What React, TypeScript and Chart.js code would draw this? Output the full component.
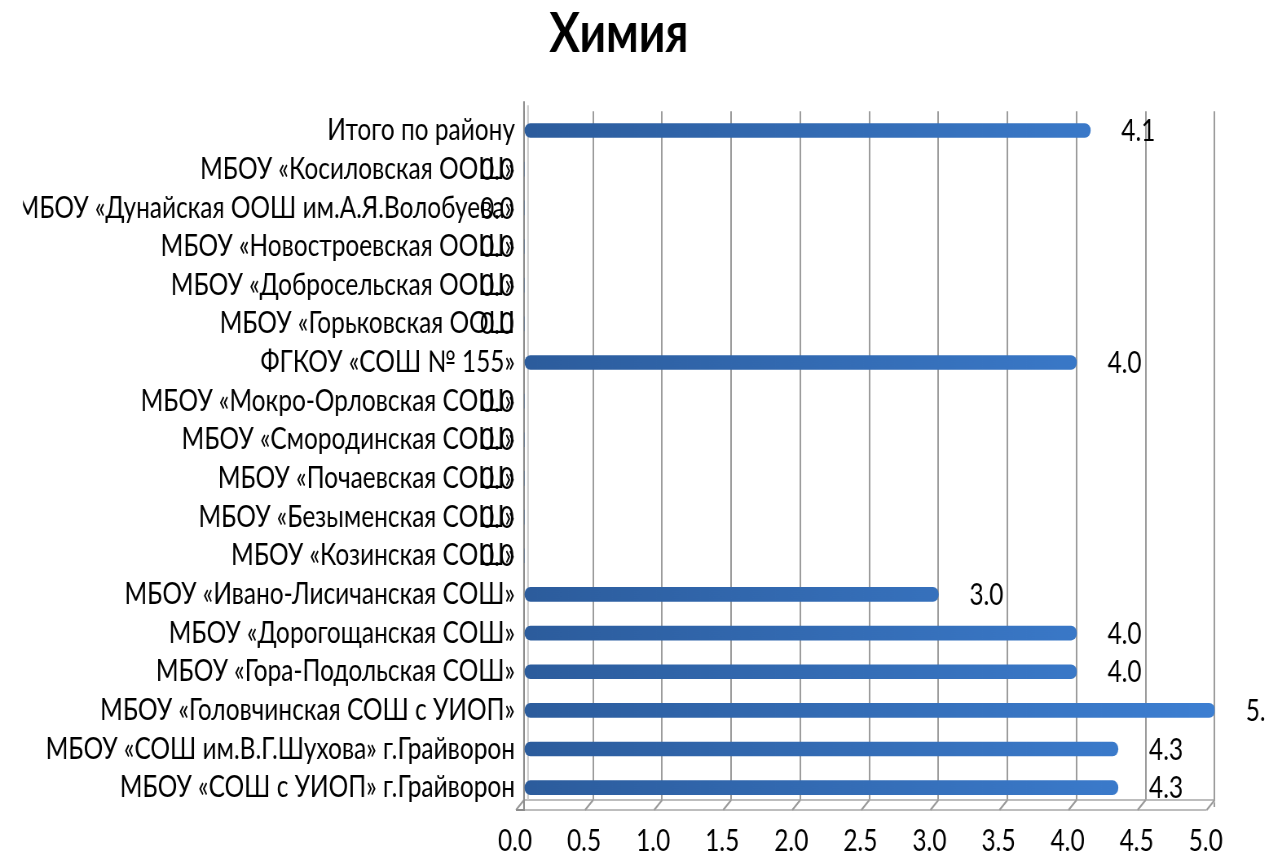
import React, { useEffect, useRef } from "react";
import { Chart, registerables } from "chart.js";

Chart.register(...registerables);

const categories: string[] = [
  "Итого по району",
  "МБОУ «Косиловская ООШ»",
  "МБОУ «Дунайская ООШ им.А.Я.Волобуева»",
  "МБОУ «Новостроевская ООШ»",
  "МБОУ «Добросельская ООШ»",
  "МБОУ «Горьковская ООШ",
  "ФГКОУ «СОШ № 155»",
  "МБОУ «Мокро-Орловская СОШ»",
  "МБОУ «Смородинская СОШ»",
  "МБОУ «Почаевская СОШ»",
  "МБОУ «Безыменская СОШ»",
  "МБОУ «Козинская СОШ»",
  "МБОУ «Ивано-Лисичанская СОШ»",
  "МБОУ «Дорогощанская СОШ»",
  "МБОУ «Гора-Подольская СОШ»",
  "МБОУ «Головчинская СОШ с УИОП»",
  "МБОУ «СОШ им.В.Г.Шухова» г.Грайворон",
  "МБОУ «СОШ с УИОП» г.Грайворон",
];

const values: number[] = [4.1, 0, 0, 0, 0, 0, 4.0, 0, 0, 0, 0, 0, 3.0, 4.0, 4.0, 5.0, 4.3, 4.3];

const axisMin = 0;
const axisMax = 5;
const axisStep = 0.5;
const titleText = "Химия";

// horizontal compression of the whole drawing (condensed look)
const SX = 0.815;
const W_FINAL = 1266;
const H_FINAL = 854;
const W_INT = W_FINAL / SX;

const FONT = "Lato, 'Open Sans', sans-serif";
const TEXT_SIZE = 30;

const floorPlugin = {
  id: "floor3d",
  beforeDatasetsDraw(chart: any) {
    const { ctx, chartArea } = chart;
    const xs = chart.scales.x;
    const yb = chartArea.bottom - 7;
    const yf = chartArea.bottom + 3;
    const d = 8 / SX;
    ctx.save();
    ctx.fillStyle = "#ffffff";
    ctx.beginPath();
    ctx.moveTo(chartArea.left, yb);
    ctx.lineTo(chartArea.right + 2, yb);
    ctx.lineTo(chartArea.right + 2 - d, yf);
    ctx.lineTo(chartArea.left - d, yf);
    ctx.closePath();
    ctx.fill();
    ctx.strokeStyle = "#a8a8a8";
    ctx.lineWidth = 1.5;
    ctx.beginPath();
    ctx.moveTo(chartArea.left, yb);
    ctx.lineTo(chartArea.right, yb);
    ctx.moveTo(chartArea.left - d, yf);
    ctx.lineTo(chartArea.right - d, yf);
    ctx.stroke();
    ctx.strokeStyle = "#9a9a9a";
    ctx.lineWidth = 2;
    ctx.beginPath();
    for (let v = axisMin; v <= axisMax + 1e-9; v += axisStep) {
      const x = xs.getPixelForValue(v);
      ctx.moveTo(x, yb);
      ctx.lineTo(x - d, yf);
    }
    ctx.stroke();
    // left wall (double line)
    ctx.strokeStyle = "#c8c8c8";
    ctx.lineWidth = 2;
    ctx.beginPath();
    ctx.moveTo(chartArea.left + 4 / SX, chartArea.top - 6);
    ctx.lineTo(chartArea.left + 4 / SX, yb);
    ctx.stroke();
    ctx.strokeStyle = "#8c8c8c";
    ctx.beginPath();
    ctx.moveTo(chartArea.left, chartArea.top - 10);
    ctx.lineTo(chartArea.left, yf);
    ctx.lineTo(chartArea.left - d, yf);
    ctx.stroke();
    ctx.restore();
  },
};

const valueLabelPlugin = {
  id: "valueLabels",
  afterDatasetsDraw(chart: any) {
    const { ctx } = chart;
    const meta = chart.getDatasetMeta(0);
    const data = chart.data.datasets[0].data as number[];
    ctx.save();
    ctx.font = `${TEXT_SIZE}px ${FONT}`;
    ctx.fillStyle = "#000000";
    ctx.textAlign = "center";
    ctx.textBaseline = "middle";
    meta.data.forEach((el: any, i: number) => {
      const v = data[i];
      const x = v === 0 ? el.x - 27 / SX : el.x + 48 / SX;
      ctx.fillText(v.toFixed(1), x, el.y + 1);
    });
    ctx.restore();
  },
};

export default function App() {
  const ref = useRef<HTMLCanvasElement | null>(null);

  useEffect(() => {
    if (!ref.current) return;
    const chart = new Chart(ref.current, {
      type: "bar",
      data: {
        labels: categories,
        datasets: [
          {
            data: values,
            backgroundColor: (c: any) => {
              const { chart } = c;
              const area = chart.chartArea;
              if (!area) return "#3366aa";
              const g = chart.ctx.createLinearGradient(area.left, 0, area.right, 0);
              g.addColorStop(0, "#2c5c9c");
              g.addColorStop(1, "#3d7fd2");
              return g;
            },
            borderWidth: 0,
            borderRadius: 7,
            borderSkipped: false,
            barThickness: 14,
          },
        ],
      },
      options: {
        indexAxis: "y",
        responsive: false,
        animation: false,
        devicePixelRatio: 1,
        layout: {
          padding: { left: 23 / SX, right: 51 / SX, top: 0, bottom: 0 },
        },
        plugins: {
          legend: { display: false },
          tooltip: { enabled: false },
          title: {
            display: true,
            text: titleText,
            color: "#000000",
            font: { family: FONT, size: 56, weight: "bold" },
            padding: { top: 0, bottom: 44 },
          },
        },
        scales: {
          x: {
            min: axisMin,
            max: axisMax,
            afterFit: (s: any) => {
              s.height = 47;
            },
            ticks: {
              stepSize: axisStep,
              color: "#000000",
              font: { family: FONT, size: TEXT_SIZE },
              padding: 16,
              labelOffset: -9 / SX,
              callback: (v: any) => Number(v).toFixed(1),
            },
            grid: { color: "#9c9c9c", lineWidth: 2, drawTicks: false },
            border: { display: false },
          },
          y: {
            afterFit: (s: any) => {
              s.width = 501 / SX;
            },
            ticks: {
              color: "#000000",
              font: { family: FONT, size: TEXT_SIZE },
              padding: 9 / SX,
              autoSkip: false,
            },
            grid: { display: false, drawTicks: false },
            border: { display: false },
          },
        },
      },
      plugins: [floorPlugin, valueLabelPlugin],
    });
    return () => chart.destroy();
  }, []);

  return (
    <div
      style={{
        position: "absolute",
        left: 0,
        top: 0,
        width: W_FINAL,
        height: H_FINAL,
        overflow: "hidden",
        background: "#ffffff",
      }}
    >
      <canvas
        ref={ref}
        width={W_INT}
        height={H_FINAL}
        style={{
          width: `${W_INT}px`,
          height: `${H_FINAL}px`,
          transform: `scaleX(${SX})`,
          transformOrigin: "0 0",
          display: "block",
        }}
      />
    </div>
  );
}
